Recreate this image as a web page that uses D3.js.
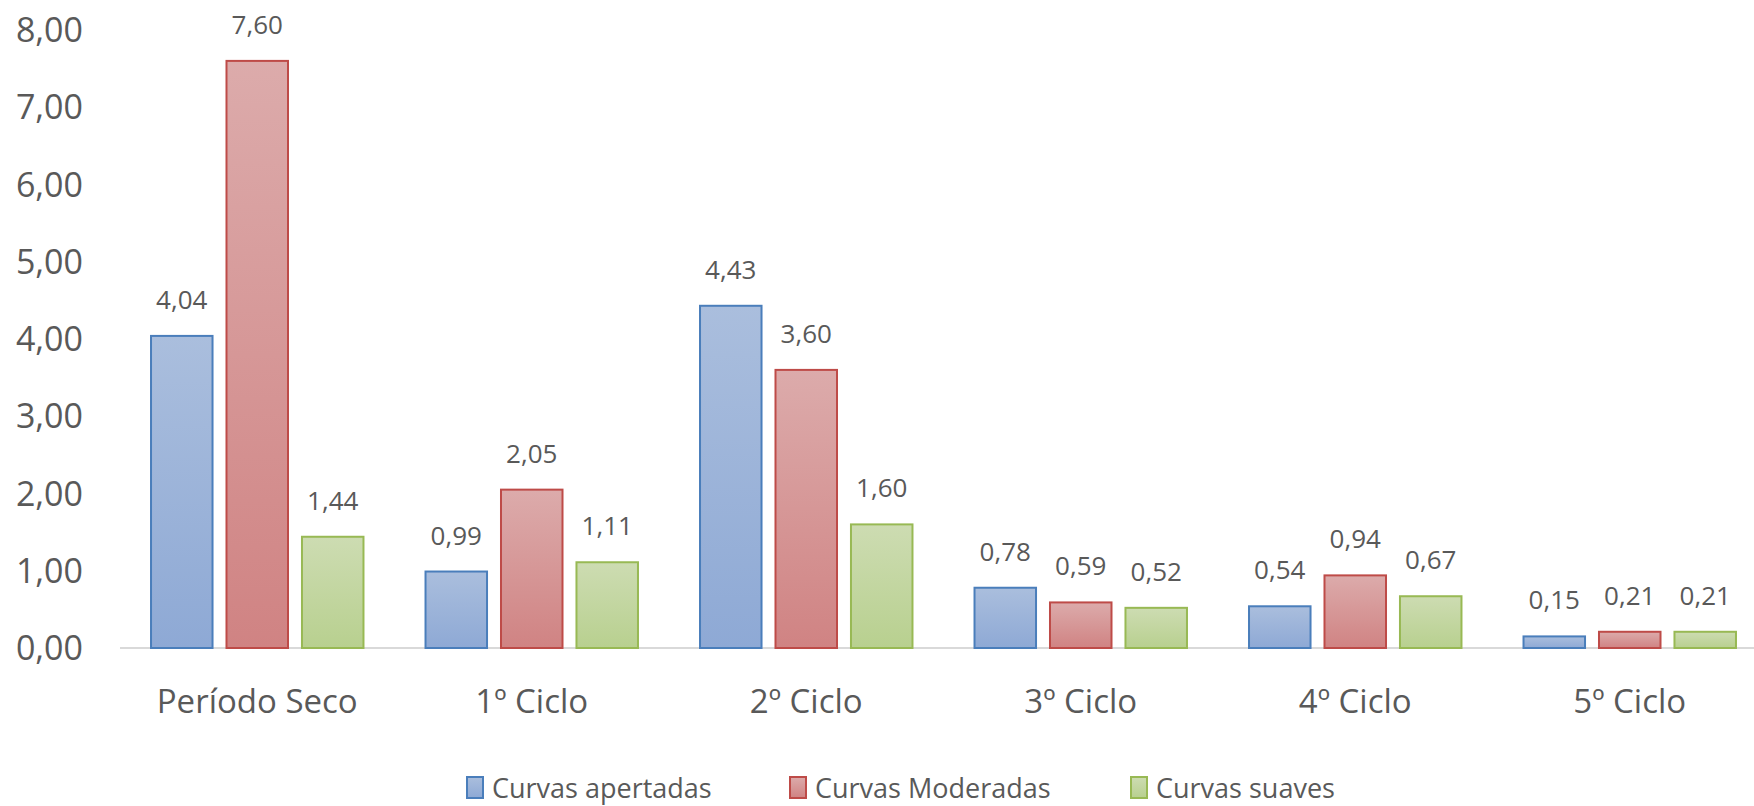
<!doctype html>
<html>
<head>
<meta charset="utf-8">
<style>
body { margin: 0; background: white; }
text { font-family: "Open Sans", sans-serif; fill: #595959; }
</style>
<script src="https://cdnjs.cloudflare.com/ajax/libs/d3/7.8.5/d3.min.js"></script>
</head>
<body>
<div id="chart"></div>
<script>
var categories = ["Período Seco", "1º Ciclo", "2º Ciclo", "3º Ciclo", "4º Ciclo", "5º Ciclo"];
var seriesNames = ["Curvas apertadas", "Curvas Moderadas", "Curvas suaves"];
var apertadas = [4.04, 0.99, 4.43, 0.78, 0.54, 0.15];
var moderadas = [7.60, 2.05, 3.60, 0.59, 0.94, 0.21];
var suaves = [1.44, 1.11, 1.60, 0.52, 0.67, 0.21];
var yTicks = [0, 1, 2, 3, 4, 5, 6, 7, 8];

var width = 1754, height = 806;
var colors = [
  {top: "#aabedd", bottom: "#8ea9d5", stroke: "#4a7ebb"},
  {top: "#dcabab", bottom: "#d08383", stroke: "#be4b48"},
  {top: "#cddcb2", bottom: "#b8d08f", stroke: "#98b954"}
];
var values = [apertadas, moderadas, suaves];
var fmt = function(v) { return d3.format(".2f")(v).replace(".", ","); };

var svg = d3.select("#chart").append("svg")
  .attr("width", width).attr("height", height);

var defs = svg.append("defs");
colors.forEach(function(c, i) {
  var g = defs.append("linearGradient").attr("id", "grad" + i)
    .attr("x1", 0).attr("y1", 0).attr("x2", 0).attr("y2", 1);
  g.append("stop").attr("offset", "0%").attr("stop-color", c.top);
  g.append("stop").attr("offset", "100%").attr("stop-color", c.bottom);
});

var y = d3.scaleLinear().domain([0, 8]).range([648, 30]);
var x0 = d3.scaleBand().domain(categories).range([120, 1767])
  .paddingInner(0.226).paddingOuter(0.113);
var x1 = d3.scaleBand().domain(seriesNames).range([0, x0.bandwidth()])
  .paddingInner(0.185);

// y axis labels
svg.append("g").selectAll("text").data(yTicks).enter().append("text")
  .attr("x", 83).attr("y", function(d) { return y(d); })
  .attr("dy", "0.36em")
  .attr("text-anchor", "end")
  .style("font-size", "34px")
  .text(fmt);

// baseline
svg.append("line")
  .attr("x1", 120).attr("x2", 1767)
  .attr("y1", y(0)).attr("y2", y(0))
  .attr("stroke", "#d9d9d9").attr("stroke-width", 2);

// bars
var groups = svg.append("g").selectAll("g").data(categories).enter().append("g")
  .attr("transform", function(d) { return "translate(" + x0(d) + ",0)"; });

seriesNames.forEach(function(s, si) {
  groups.append("rect")
    .attr("x", x1(s))
    .attr("y", function(d, i) { return y(values[si][i]); })
    .attr("width", x1.bandwidth())
    .attr("height", function(d, i) { return y(0) - y(values[si][i]); })
    .attr("fill", "url(#grad" + si + ")")
    .attr("stroke", colors[si].stroke)
    .attr("stroke-width", 2);

  groups.append("text")
    .attr("x", x1(s) + x1.bandwidth() / 2)
    .attr("y", function(d, i) { return y(values[si][i]) - 27; })
    .attr("text-anchor", "middle")
    .style("font-size", "26px")
    .text(function(d, i) { return fmt(values[si][i]); });
});

// category labels
svg.append("g").selectAll("text").data(categories).enter().append("text")
  .attr("x", function(d) { return x0(d) + x0.bandwidth() / 2; })
  .attr("y", 713)
  .attr("text-anchor", "middle")
  .style("font-size", "33px")
  .text(function(d) { return d; });

// legend
var legendX = [467, 790, 1131];
var legend = svg.append("g").selectAll("g").data(seriesNames).enter().append("g")
  .attr("transform", function(d, i) { return "translate(" + legendX[i] + ",777)"; });
legend.append("rect")
  .attr("width", 16).attr("height", 21)
  .attr("fill", function(d, i) { return "url(#grad" + i + ")"; })
  .attr("stroke", function(d, i) { return colors[i].stroke; })
  .attr("stroke-width", 2);
legend.append("text")
  .attr("x", 25).attr("y", 11).attr("dy", "0.36em")
  .style("font-size", "27px")
  .text(function(d) { return d; });
</script>
</body>
</html>
